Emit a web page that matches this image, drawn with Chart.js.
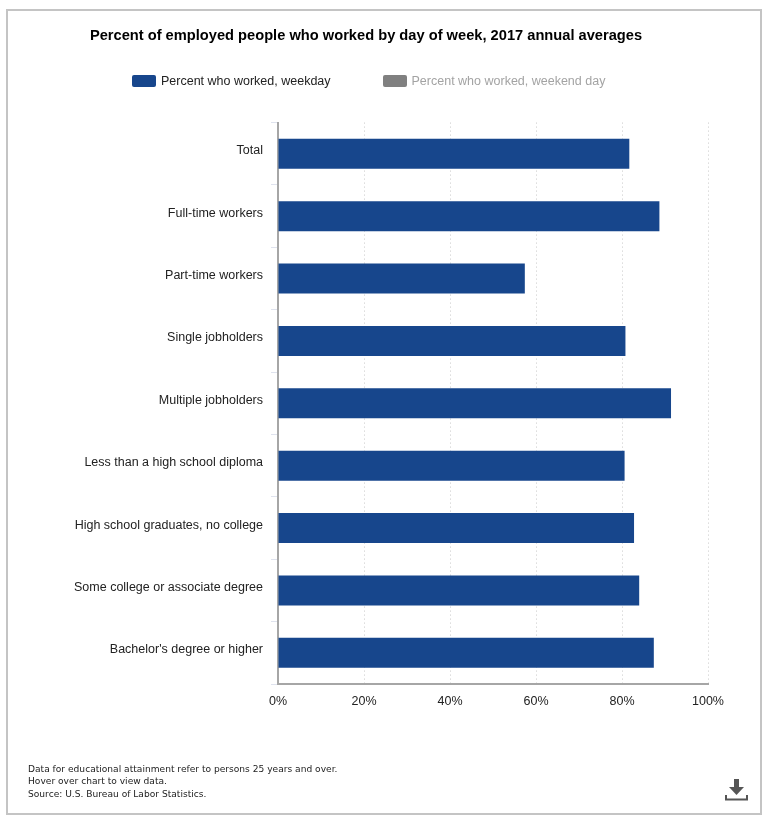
<!DOCTYPE html>
<html>
<head>
<meta charset="utf-8">
<script src="https://cdn.jsdelivr.net/npm/chart.js@4"></script>
<style>
  body { margin: 0; background: #fff; font-family: "Liberation Sans", sans-serif; }
  #frame { position: absolute; left: 6px; top: 9px; width: 752px; height: 802px; border: 2px solid #c4c4c4; }
  #chartBox { position: absolute; left: 0; top: 0; width: 768px; height: 821px; }
  #legend { position: absolute; left: 132px; top: 73px; height: 16px; display: flex; align-items: center; font-size: 12.5px; color: #222; }
  #legend .box { width: 24px; height: 12px; border-radius: 2px; margin-right: 5px; }
  #legend .item { display: flex; align-items: center; margin-right: 52px; white-space: nowrap; }
  #notes { position: absolute; left: 28px; top: 763px; font: 9.1px/12.4px "DejaVu Sans", sans-serif; color: #222; white-space: nowrap; }
  #download { position: absolute; left: 724px; top: 777px; }
</style>
</head>
<body>
<div id="frame"></div>
<div id="chartBox"><canvas id="diasTrabalhados"></canvas></div>
<div id="legend"></div>
<div id="notes">
  Data for educational attainment refer to persons 25 years and over.<br>
  Hover over chart to view data.<br>
  Source: U.S. Bureau of Labor Statistics.
</div>
<svg id="download" width="25" height="25" viewBox="0 0 25 25">
  <path d="M10 2h5v8h5l-7.5 8L5 10h5z" fill="#555"/>
  <path d="M2 18v4.5h21V18" fill="none" stroke="#555" stroke-width="2"/>
</svg>

<script>
const categorias = [
  "Total",
  "Full-time workers",
  "Part-time workers",
  "Single jobholders",
  "Multiple jobholders",
  "Less than a high school diploma",
  "High school graduates, no college",
  "Some college or associate degree",
  "Bachelor's degree or higher",
];
const diaUtil = [81.7, 88.7, 57.4, 80.8, 91.4, 80.6, 82.8, 84.0, 87.4];
// the weekend series is switched off in the picture, so its values can't be read
const fimDeSemana = [];

const corUtil = "#17468c";
const corFimDeSemana = "#808080";

const grafico = new Chart(document.getElementById("diasTrabalhados"), {
  type: "bar",
  data: {
    labels: categorias,
    datasets: [
      {
        label: "Percent who worked, weekday",
        data: diaUtil,
        backgroundColor: corUtil,
        barPercentage: 0.48,
        categoryPercentage: 1,
      },
      {
        label: "Percent who worked, weekend day",
        data: fimDeSemana,
        backgroundColor: corFimDeSemana,
        hidden: true,
      },
    ],
  },
  options: {
    indexAxis: "y",
    responsive: true,
    maintainAspectRatio: false,
    animation: false,
    layout: {
      padding: { left: 24, right: 60, top: 27, bottom: 102 },
    },
    plugins: {
      legend: { display: false },
      title: {
        display: true,
        text: "Percent of employed people who worked by day of week, 2017 annual averages",
        color: "#000",
        font: { family: "Liberation Sans", size: 14.66, weight: "bold" },
        padding: { top: 0, bottom: 78 },
      },
    },
    scales: {
      x: {
        min: 0,
        max: 100,
        ticks: {
          stepSize: 20,
          color: "#222",
          padding: 10,
          font: { family: "Liberation Sans", size: 12.5 },
          callback: (v) => v + "%",
        },
        border: { color: "#a6a6a6", width: 2, dash: [1, 3] },
        grid: {
          color: "#c8c8c8",
          drawTicks: false,
        },
      },
      y: {
        afterFit: (scale) => {
          scale.width = 254;
        },
        ticks: {
          color: "#222",
          padding: 8,
          labelOffset: -3,
          font: { family: "Liberation Sans", size: 12.5 },
        },
        border: { color: "#a6a6a6", width: 2 },
        grid: {
          drawOnChartArea: false,
          tickColor: "#dfe3ee",
          tickLength: 7,
          offset: true,
        },
      },
    },
  },
});

// legenda em html, o espaco entre itens nao da pra separar do padding vertical
const legenda = document.getElementById("legend");
grafico.data.datasets.forEach((ds) => {
  const item = document.createElement("div");
  item.className = "item";
  if (ds.hidden) item.style.color = "#a3a3a3";
  const caixa = document.createElement("div");
  caixa.className = "box";
  caixa.style.background = ds.backgroundColor;
  item.appendChild(caixa);
  item.appendChild(document.createTextNode(ds.label));
  legenda.appendChild(item);
});
</script>
</body>
</html>
